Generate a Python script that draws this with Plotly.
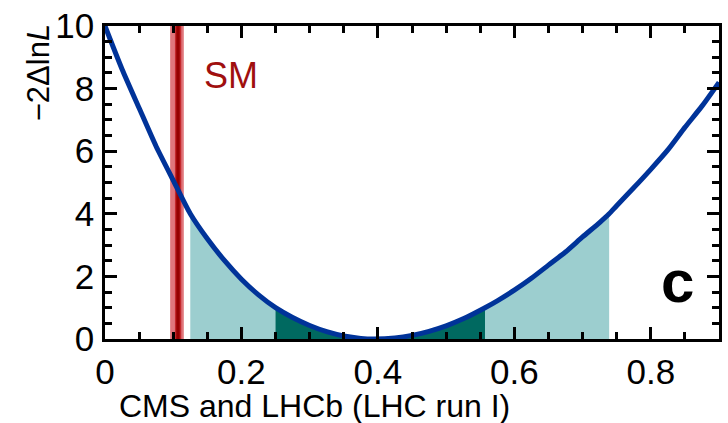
import plotly.graph_objects as go

# Profile likelihood curve
x_vals = [0.0, 0.025, 0.05, 0.075, 0.1, 0.125, 0.15, 0.175, 0.2, 0.225, 0.25, 0.275,
          0.3, 0.325, 0.35, 0.375, 0.395, 0.425, 0.45, 0.475, 0.5, 0.525, 0.557,
          0.575, 0.6, 0.625, 0.65, 0.675, 0.7, 0.725, 0.739, 0.75, 0.775, 0.8,
          0.825, 0.85, 0.875, 0.9]
y_vals = [10.0, 8.62, 7.38, 6.15, 5.07, 4.0, 3.20, 2.51, 1.91, 1.41, 1.0, 0.685,
          0.43, 0.233, 0.096, 0.019, 0.0, 0.034, 0.115, 0.244, 0.42, 0.644, 1.0,
          1.22, 1.56, 1.94, 2.36, 2.78, 3.26, 3.72, 4.0, 4.26, 4.83, 5.42,
          6.04, 6.76, 7.44, 8.2]

# Confidence intervals
int_2sigma = [0.125, 0.739]
int_1sigma = [0.25, 0.557]

# SM prediction band
sm_center = 0.1057
sm_outer = [0.0955, 0.1155]
sm_mid = [0.1025, 0.1118]
sm_inner = [0.1045, 0.1095]

x_range = [0, 0.9]
y_range = [0, 10]

BLUE = "rgb(0,51,153)"
LTEAL = "rgb(156,206,207)"
DTEAL = "rgb(0,105,96)"
FONT = "Liberation Sans, Arial, Helvetica, sans-serif"


def segment(lo, hi):
    xs = [x for x in x_vals if lo - 1e-9 <= x <= hi + 1e-9]
    ys = [y for x, y in zip(x_vals, y_vals) if lo - 1e-9 <= x <= hi + 1e-9]
    return xs, ys


fig = go.Figure()

xs2, ys2 = segment(*int_2sigma)
fig.add_trace(go.Scatter(x=xs2, y=ys2, mode="lines", fill="tozeroy",
                         fillcolor=LTEAL, line=dict(width=0, color=LTEAL),
                         hoverinfo="skip", showlegend=False))
xs1, ys1 = segment(*int_1sigma)
fig.add_trace(go.Scatter(x=xs1, y=ys1, mode="lines", fill="tozeroy",
                         fillcolor=DTEAL, line=dict(width=0, color=DTEAL),
                         hoverinfo="skip", showlegend=False))

# SM band as filled traces
for (lo, hi), col in [(sm_outer, "rgb(224,118,124)"),
                      (sm_mid, "rgb(196,40,44)"),
                      (sm_inner, "rgb(150,0,0)")]:
    fig.add_trace(go.Scatter(x=[lo, hi, hi, lo, lo], y=[0, 0, 10, 10, 0],
                             mode="lines", fill="toself", fillcolor=col,
                             line=dict(width=0, color=col),
                             hoverinfo="skip", showlegend=False))

fig.add_trace(go.Scatter(x=x_vals, y=y_vals, mode="lines",
                         line=dict(color=BLUE, width=5, shape="spline", smoothing=0.6),
                         showlegend=False))

common = dict(showline=True, linecolor="black", linewidth=2.5, mirror="allticks",
              ticks="inside", tickcolor="black", tickwidth=2.5, ticklen=12,
              showgrid=False, zeroline=False, tickmode="linear", tick0=0,
              tickfont=dict(family=FONT, size=35, color="black"))

fig.update_xaxes(range=x_range, dtick=0.2, ticklabelstandoff=0,
                 minor=dict(tickmode="linear", tick0=0, dtick=0.05, ticks="inside",
                            ticklen=7, tickwidth=2.5, tickcolor="black", showgrid=False),
                 **common)
fig.update_yaxes(range=y_range, dtick=2, ticklabelstandoff=1,
                 minor=dict(tickmode="linear", tick0=0, dtick=0.5, ticks="inside",
                            ticklen=7, tickwidth=2.5, tickcolor="black", showgrid=False),
                 **common)

fig.add_annotation(x=sm_center + 0.036, y=8.42, xref="x", yref="y", text="SM",
                   showarrow=False, xanchor="left", yanchor="middle",
                   font=dict(family=FONT, size=36, color="rgb(160,15,15)"))
fig.add_annotation(x=0.839, y=1.83, xref="x", yref="y", text="<b>c</b>",
                   showarrow=False, xanchor="center", yanchor="middle",
                   font=dict(family=FONT, size=60, color="black"))
fig.add_annotation(x=-0.107, y=0.85, xref="paper", yref="paper",
                   text="\u22122\u0394ln<i>L</i>", textangle=-90, showarrow=False,
                   xanchor="center", yanchor="middle",
                   font=dict(family=FONT, size=31, color="black"))
fig.add_annotation(x=0.019, y=-0.213, xref="paper", yref="paper",
                   text="CMS and LHCb (LHC run I)", showarrow=False,
                   xanchor="left", yanchor="middle",
                   font=dict(family=FONT, size=32, color="black"))
fig.add_annotation(x=-0.185, y=-0.075, xref="paper", yref="paper",
                   text="9", showarrow=False, xanchor="center", yanchor="middle",
                   font=dict(family=FONT, size=34, color="black"))

fig.update_layout(width=728, height=423,
                  margin=dict(l=105, r=6, t=22, b=84),
                  paper_bgcolor="white", plot_bgcolor="white")

fig.write_html("out.html")
